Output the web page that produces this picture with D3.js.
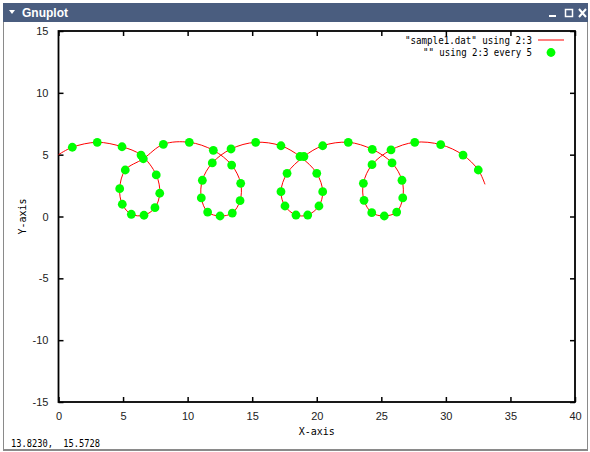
<!DOCTYPE html>
<html>
<head>
<meta charset="utf-8">
<script src="https://cdnjs.cloudflare.com/ajax/libs/d3/7.8.5/d3.min.js"></script>
<style>
  body { margin: 0; background: #fff; }
  svg { display: block; }
</style>
</head>
<body>
<div id="chart"></div>
<script>
// tick labels
var xTicks = [0, 5, 10, 15, 20, 25, 30, 35, 40];
var yTicks = [-15, -10, -5, 0, 5, 10, 15];

// "every 5" samples of sample1.dat (columns 2:3)
var dotX = [1.07, 3.00, 4.92, 6.39, 7.57, 7.84, 7.47, 6.62, 5.64, 4.94, 4.74, 5.17, 6.57,
            8.12, 10.13, 11.99, 13.41, 14.11, 14.06, 13.46, 12.51, 11.55, 11.06, 11.14, 11.91,
            13.36, 15.27, 17.23, 18.70, 20.00, 20.46, 20.17, 19.30, 18.39, 17.54, 17.23, 17.70,
            19.01, 20.46, 22.44, 24.30, 25.83, 26.60, 26.66, 26.19, 25.23, 24.26, 23.66, 23.61,
            24.28, 25.75, 27.59, 29.60, 31.33, 32.51];
var dotY = [5.60, 6.00, 5.64, 4.97, 3.36, 1.88, 0.71, 0.10, 0.18, 0.99, 2.25, 3.76, 4.67,
            5.84, 6.00, 5.35, 4.16, 2.68, 1.28, 0.28, 0.04, 0.36, 1.50, 2.93, 4.33,
            5.46, 6.00, 5.72, 4.85, 3.49, 2.01, 0.85, 0.12, 0.12, 0.85, 2.01, 3.49,
            4.85, 5.72, 6.00, 5.43, 4.33, 2.93, 1.50, 0.36, 0.04, 0.31, 1.31, 2.68,
            4.19, 5.38, 6.00, 5.81, 4.97, 3.76];
// first and last points of the full line
var lineStart = [0, 5.0];
var lineEnd = [33.03, 2.60];

var W = 590, H = 452;
var mono = "'DejaVu Sans Mono', monospace";
var sans = "'Liberation Sans', Arial, sans-serif";

var svg = d3.select("#chart").append("svg")
    .attr("width", W)
    .attr("height", H);

// ---- window chrome ----
svg.append("rect")
    .attr("x", 3).attr("y", 3).attr("width", 585).attr("height", 19)
    .attr("fill", "#4a5d7f");
svg.append("path")
    .attr("d", "M9,10 L15,10 L12,14 Z")
    .attr("fill", "#fff");
svg.append("text")
    .attr("x", 22).attr("y", 17)
    .attr("font-family", sans).attr("font-size", 12).attr("font-weight", "bold")
    .attr("fill", "#fff")
    .text("Gnuplot");
// _ [] X buttons
svg.append("rect").attr("x", 549).attr("y", 15).attr("width", 7).attr("height", 2).attr("fill", "#fff");
svg.append("rect").attr("x", 565.5).attr("y", 9.5).attr("width", 7).attr("height", 7)
    .attr("fill", "none").attr("stroke", "#fff").attr("stroke-width", 1.5);
svg.append("path").attr("d", "M579,9 L586,17 M586,9 L579,17")
    .attr("stroke", "#fff").attr("stroke-width", 2);

// frame sides and bottom
svg.append("path")
    .attr("d", "M3.5,22 L3.5,449 M587.5,22 L587.5,449")
    .attr("stroke", "#8a8a8a").attr("fill", "none");
svg.append("rect")
    .attr("x", 3).attr("y", 449).attr("width", 585).attr("height", 2)
    .attr("fill", "#8a8a8a");

// status line (mouse coordinates)
svg.append("text")
    .attr("x", 11).attr("y", 447)
    .attr("font-family", mono).attr("font-size", 10)
    .style("white-space", "pre")
    .attr("textLength", 89).attr("lengthAdjust", "spacingAndGlyphs")
    .text("13.8230,  15.5728");

// ---- plot ----
var x = d3.scaleLinear().domain([0, 40]).range([58.5, 575]);
var y = d3.scaleLinear().domain([-15, 15]).range([402, 31]);

function styleAxis(g) {
    g.select(".domain").remove();
    g.selectAll(".tick line").attr("stroke", "#000").attr("stroke-width", 1.5);
    g.selectAll(".tick text")
        .attr("font-family", sans).attr("font-size", 11).attr("fill", "#222");
}

svg.append("g")
    .attr("transform", "translate(0," + y(-15) + ")")
    .call(d3.axisBottom(x).tickValues(xTicks).tickSize(-5).tickPadding(10)
        .tickFormat(function(d) { return String(d); }))
    .call(styleAxis);
svg.append("g")
    .attr("transform", "translate(0," + y(15) + ")")
    .call(d3.axisTop(x).tickValues(xTicks).tickSize(-5).tickFormat(""))
    .call(styleAxis);
svg.append("g")
    .attr("transform", "translate(" + x(0) + ",0)")
    .call(d3.axisLeft(y).tickValues(yTicks).tickSize(-5).tickPadding(10)
        .tickFormat(function(d) { return String(d); }))
    .call(styleAxis);
svg.append("g")
    .attr("transform", "translate(" + x(40) + ",0)")
    .call(d3.axisRight(y).tickValues(yTicks).tickSize(-5).tickFormat(""))
    .call(styleAxis);

// border
svg.append("rect")
    .attr("x", x(0)).attr("y", y(15))
    .attr("width", x(40) - x(0)).attr("height", y(-15) - y(15))
    .attr("fill", "none").attr("stroke", "#000").attr("stroke-width", 1.8);

// axis titles
svg.append("text")
    .attr("x", (x(0) + x(40)) / 2).attr("y", 435)
    .attr("text-anchor", "middle")
    .attr("font-family", mono).attr("font-size", 10)
    .text("X-axis");
svg.append("text")
    .attr("transform", "translate(26," + (y(0)) + ") rotate(-90)")
    .attr("text-anchor", "middle")
    .attr("font-family", mono).attr("font-size", 10)
    .text("Y-axis");

// the curve goes through every sampled point
var pts = [lineStart].concat(dotX.map(function(d, i) { return [d, dotY[i]]; }), [lineEnd]);

var line = d3.line()
    .x(function(d) { return x(d[0]); })
    .y(function(d) { return y(d[1]); })
    .curve(d3.curveCatmullRom.alpha(0.5));

svg.append("path")
    .datum(pts)
    .attr("d", line)
    .attr("fill", "none")
    .attr("stroke", "#ff0000")
    .attr("stroke-width", 1);

svg.append("g").selectAll("circle")
    .data(dotX)
    .enter().append("circle")
    .attr("cx", function(d) { return x(d); })
    .attr("cy", function(d, i) { return y(dotY[i]); })
    .attr("r", 4.4)
    .attr("fill", "#00ff00");

// ---- key ----
var key = svg.append("g")
    .attr("font-family", mono).attr("font-size", 10)
    .attr("text-anchor", "end");
key.append("text")
    .attr("x", 532).attr("y", 43.5)
    .attr("textLength", 127).attr("lengthAdjust", "spacingAndGlyphs")
    .text('"sample1.dat" using 2:3');
key.append("line")
    .attr("x1", 538).attr("x2", 564).attr("y1", 40).attr("y2", 40)
    .attr("stroke", "#ff0000");
key.append("text")
    .attr("x", 532).attr("y", 56)
    .attr("textLength", 109).attr("lengthAdjust", "spacingAndGlyphs")
    .text('"" using 2:3 every 5');
key.append("circle")
    .attr("cx", 551).attr("cy", 52.5).attr("r", 4.4)
    .attr("fill", "#00ff00");
</script>
</body>
</html>
